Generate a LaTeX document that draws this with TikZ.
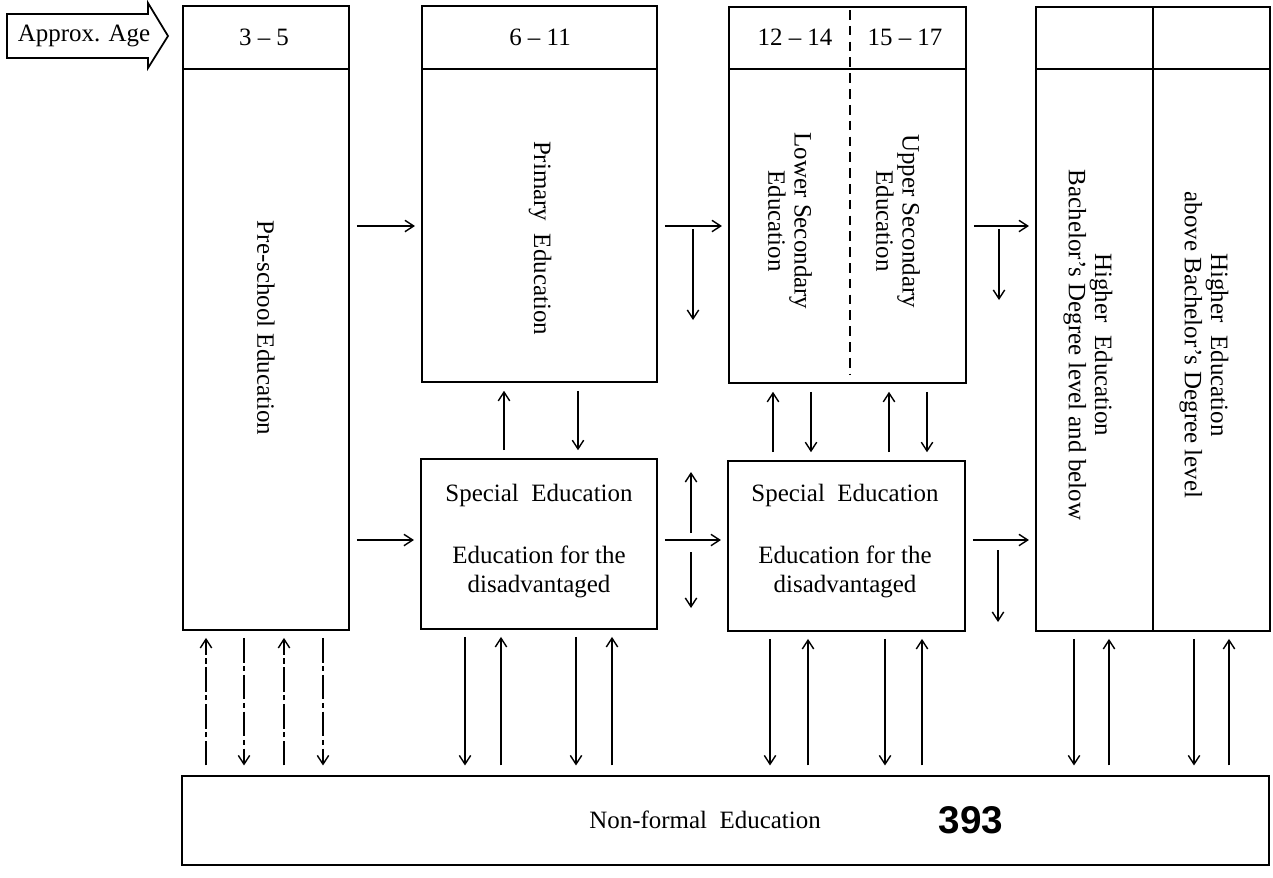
\documentclass[tikz,border=0pt]{standalone}
\usepackage{fontspec}
\setmainfont{Liberation Serif}
\newfontfamily\numfont{Liberation Sans}
\usetikzlibrary{arrows.meta,calc,fit}
\begin{document}
\begin{tikzpicture}[x=0.02cm,y=-0.02cm,
  box/.style={draw,line width=1.3pt,inner sep=0pt,outer sep=0pt},
  hdr/.style={line width=0.9pt},
  lbl/.style={font=\fontsize{14.2}{16.4}\selectfont,inner sep=0pt},
  vlbl/.style={font=\fontsize{14.2}{15}\selectfont,inner sep=0pt,rotate=-90,align=center},
  arr/.style={line width=0.8pt,-{Straight Barb[length=5pt,width=6.5pt,line width=0.8pt]}},
  conn/.style={arr,shorten <=4.5pt,shorten >=4pt},
  vconn/.style={arr,shorten <=5pt,shorten >=5pt},
  bconn/.style={arr,shorten <=4.5pt,shorten >=6pt},
  uconn/.style={arr,shorten <=6pt,shorten >=4.5pt},
  faint/.style={dash pattern=on 14pt off 2pt on 3pt off 2pt}]
\useasboundingbox (0,0) rectangle (1273,877);

% Approx. Age arrow
\draw[line width=1pt,line join=miter] (7,14) -- (148,14) -- (148,3) -- (168,36) -- (148,68) -- (148,58) -- (7,58) -- cycle;
\node[lbl] (age) at (84,36) {Approx. Age};

\coordinate (h) at (0,69);

% Pre-school
\node[box,fit={(183,6) (349,630)}] (pre) {};
\draw[hdr] (pre.west |- h) -- (pre.east |- h);
\node[lbl] (agepre) at (264,37) {3 -- 5};
\node[vlbl] (pretext) at (266,328) {Pre-school Education};

% Primary
\node[box,fit={(422,6) (657,382)}] (prim) {};
\draw[hdr] (prim.west |- h) -- (prim.east |- h);
\node[lbl] (ageprim) at (540,37) {6 -- 11};
\node[vlbl] (primtext) at (540,238) {Primary\ \ Education};

% Secondary
\node[box,fit={(729,7) (966,383)}] (sec) {};
\draw[hdr] (sec.west |- h) -- (sec.east |- h);
\draw[line width=1pt,dash pattern=on 5.5pt off 3.5pt] (850,10) -- (850,374);
\node[lbl] (agelow) at (795,37) {12 -- 14};
\node[lbl] (ageup) at (905,37) {15 -- 17};
\node[vlbl] (lowtext) at (790,221) {Lower Secondary\\Education};
\node[vlbl] (uptext) at (898,221) {Upper Secondary\\Education};

% Higher
\node[box,fit={(1036,7) (1270,631)}] (hi) {};
\draw[hdr] (hi.west |- h) -- (hi.east |- h);
\draw[box] (1153,7) -- (1153,631);
\node[vlbl] (hitext1) at (1088,345) {Higher\ \ Education\\Bachelor's Degree level and below};
\node[vlbl] (hitext2) at (1204,345) {Higher\ \ Education\\above Bachelor's Degree level};

% Special education boxes
\node[box,fit={(421,459) (657,629)}] (sp1) {};
\node[lbl,align=center] (sp1text) at (539,541) {Special\ \ Education\\[19pt]Education for the\\disadvantaged};
\node[box,fit={(728,461) (965,631)}] (sp2) {};
\node[lbl,align=center] (sp2text) at (845,541) {Special\ \ Education\\[19pt]Education for the\\disadvantaged};

% Non-formal
\node[box,fit={(182,776) (1269,865)}] (nf) {};
\node[lbl] (nftext) at (705,820) {Non-formal\ \ Education};
\node[font=\numfont\bfseries\fontsize{22}{22}\selectfont,inner sep=0pt] (pagenum) at (971,820) {393};

% horizontal connectors
\coordinate (yA) at (0,226);
\coordinate (yB) at (0,540);
\draw[conn] (pre.east |- yA) -- (prim.west |- yA);
\draw[conn] (pre.east |- yB) -- (sp1.west |- yB);
\draw[conn] (prim.east |- yA) -- (sec.west |- yA);
\draw[conn] (sec.east |- yA) -- (hi.west |- yA);
\draw[conn] (sp1.east |- yB) -- (sp2.west |- yB);
\draw[conn] (sp2.east |- yB) -- (hi.west |- yB);

% branch arrows
\coordinate (d1) at (693,229);
\draw[arr] (d1) -- ++(0,91);
\coordinate (d2) at (999,229);
\draw[arr] (d2) -- ++(0,71);
\coordinate (d3) at (691,533);
\draw[arr] (d3) -- ++(0,-61);
\coordinate (d4) at (691,552);
\draw[arr] (d4) -- ++(0,56);
\coordinate (d5) at (998,550);
\draw[arr] (d5) -- ++(0,72);

% between upper and lower boxes
\draw[vconn] (sp1.north -| 504,0) -- (prim.south -| 504,0);
\draw[vconn] (prim.south -| 578,0) -- (sp1.north -| 578,0);
\foreach \x in {773,889} \draw[vconn] (sp2.north -| \x,0) -- (sec.south -| \x,0);
\foreach \x in {811,927} \draw[vconn] (sec.south -| \x,0) -- (sp2.north -| \x,0);

% to / from non-formal education
\foreach \x in {206,284} \draw[uconn,faint] (nf.north -| \x,0) -- (pre.south -| \x,0);
\foreach \x in {244,323} \draw[bconn,faint] (pre.south -| \x,0) -- (nf.north -| \x,0);
\foreach \x in {501,612} \draw[uconn] (nf.north -| \x,0) -- (sp1.south -| \x,0);
\foreach \x in {465,576} \draw[bconn] (sp1.south -| \x,0) -- (nf.north -| \x,0);
\foreach \x in {808,922} \draw[uconn] (nf.north -| \x,0) -- (sp2.south -| \x,0);
\foreach \x in {770,885} \draw[bconn] (sp2.south -| \x,0) -- (nf.north -| \x,0);
\foreach \x in {1109,1229} \draw[uconn] (nf.north -| \x,0) -- (hi.south -| \x,0);
\foreach \x in {1074,1194} \draw[bconn] (hi.south -| \x,0) -- (nf.north -| \x,0);
\end{tikzpicture}
\end{document}
